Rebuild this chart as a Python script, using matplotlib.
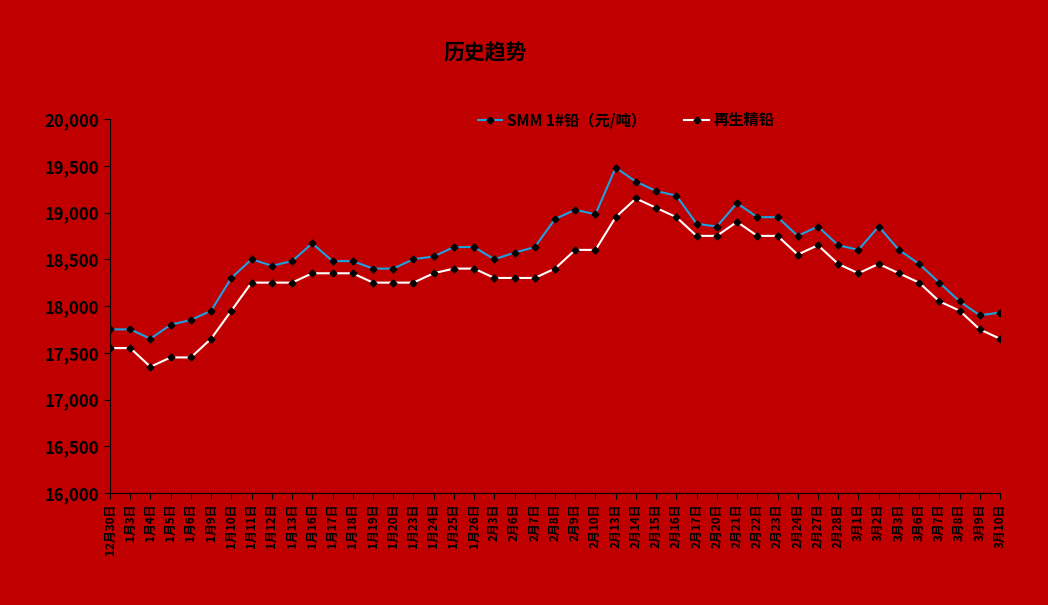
import matplotlib
matplotlib.use("Agg")
import matplotlib.pyplot as plt

plt.rcParams['font.family'] = ['Noto Sans CJK SC', 'DejaVu Sans']

dates = ["12月30日","1月3日","1月4日","1月5日","1月6日","1月9日","1月10日","1月11日","1月12日","1月13日",
         "1月16日","1月17日","1月18日","1月19日","1月20日","1月23日","1月24日","1月25日","1月26日","2月3日",
         "2月6日","2月7日","2月8日","2月9日","2月10日","2月13日","2月14日","2月15日","2月16日","2月17日",
         "2月20日","2月21日","2月22日","2月23日","2月24日","2月27日","2月28日","3月1日","3月2日","3月3日",
         "3月6日","3月7日","3月8日","3月9日","3月10日"]
smm = [17750,17750,17650,17800,17850,17950,18300,18500,18430,18480,
       18670,18480,18480,18400,18400,18500,18530,18630,18630,18500,
       18570,18630,18930,19030,18980,19480,19330,19230,19180,18880,
       18850,19100,18950,18950,18750,18850,18650,18600,18850,18600,
       18450,18250,18050,17900,17930]
recycled = [17550,17550,17350,17450,17450,17650,17950,18250,18250,18250,
            18350,18350,18350,18250,18250,18250,18350,18400,18400,18300,
            18300,18300,18400,18600,18600,18950,19150,19050,18950,18750,
            18750,18900,18750,18750,18550,18650,18450,18350,18450,18350,
            18250,18050,17950,17750,17650]

bg = '#C00000'
fig = plt.figure(figsize=(10.48, 6.05), dpi=100, facecolor=bg)
ax = fig.add_axes([110/1048, 1-493/605, 890/1048, 374/605], facecolor=bg)
x = list(range(len(dates)))
ax.plot(x, smm, color='#1FA0E0', lw=1.5, marker='D', ms=3.5, mfc='black', mec='black', label='SMM 1#铅（元/吨）')
ax.plot(x, recycled, color='white', lw=1.5, marker='D', ms=3.5, mfc='black', mec='black', label='再生精铅')
ax.set_xlim(0, len(dates)-1)
ax.set_ylim(16000, 20000)
ax.set_yticks(range(16000, 20001, 500))
ax.set_yticklabels([f"{v:,}" for v in range(16000, 20001, 500)], fontsize=12, fontweight='bold')
ax.set_xticks(x)
ax.set_xticklabels(dates, rotation=90, fontsize=8.5, fontweight='bold')
for s in ['top', 'right']:
    ax.spines[s].set_visible(False)
for s in ['left', 'bottom']:
    ax.spines[s].set_color('black')
ax.tick_params(colors='black', direction='out', length=4)
ax.legend(loc='upper center', bbox_to_anchor=(0.58, 1.055), ncol=2, frameon=False,
          prop={'weight': 'bold', 'size': 11}, columnspacing=2.5, handlelength=1.6, handletextpad=0.3)
fig.text(0.463, 0.912, '历史趋势', ha='center', va='center', fontsize=15, fontweight='bold')
fig.savefig('out.png', dpi=100, facecolor=bg)
